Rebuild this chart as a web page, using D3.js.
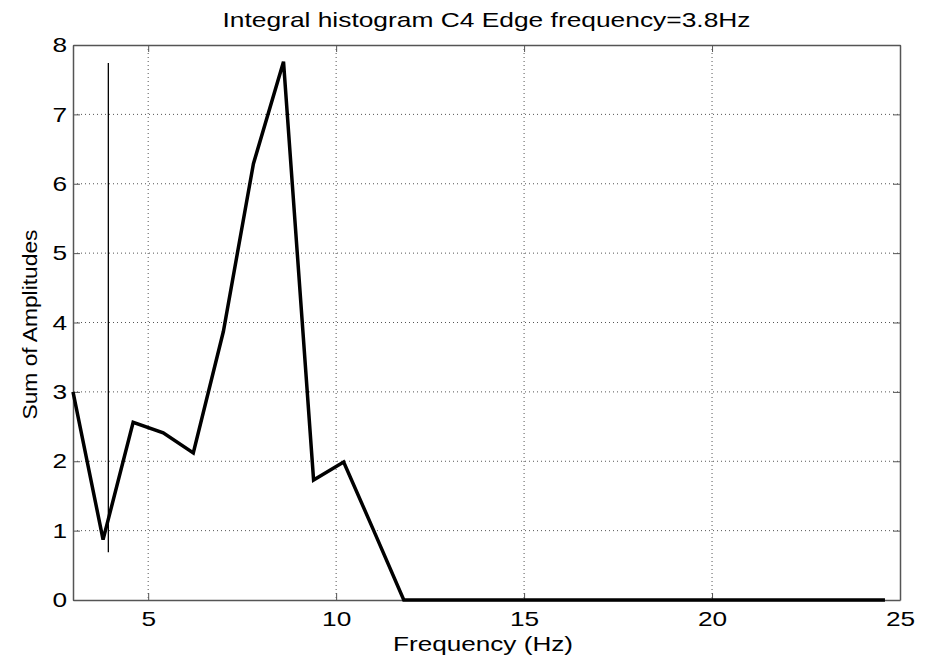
<!DOCTYPE html>
<html>
<head>
<meta charset="utf-8">
<script src="https://cdn.jsdelivr.net/npm/d3@7"></script>
<style>
  body { margin: 0; background: #fff; }
  svg text { font-family: "Liberation Sans", Arial, sans-serif; fill: #000; }
</style>
</head>
<body>
<div id="chart"></div>
<script>
// frequency bins (Hz)
const freqs = [3.0, 3.8, 4.6, 5.4, 6.2, 7.0, 7.8, 8.6, 9.4, 10.2, 11.0, 11.8,
  12.6, 13.4, 14.2, 15.0, 15.8, 16.6, 17.4, 18.2, 19.0, 19.8, 20.6, 21.4,
  22.2, 23.0, 23.8, 24.6];
// sum of amplitudes per bin
const amps = [3.0, 0.87, 2.56, 2.41, 2.12, 3.87, 6.29, 7.76, 1.73, 1.99, 1.0, 0,
  0, 0, 0, 0, 0, 0, 0, 0, 0, 0, 0, 0,
  0, 0, 0, 0];
// edge frequency marker: x position and vertical extent
const edgeX = [3.94];
const edgeY = [0.69, 7.74];
const xTicks = [5, 10, 15, 20, 25];
const yTicks = [0, 1, 2, 3, 4, 5, 6, 7, 8];
const titleText = "Integral histogram C4 Edge frequency=3.8Hz";

const width = 928, height = 656;
const margin = { top: 45, right: 28, bottom: 56, left: 73 };
const innerW = width - margin.left - margin.right;
const innerH = height - margin.top - margin.bottom;
const stretch = 1.25; // the reference text is drawn wide

const svg = d3.select("#chart").append("svg")
  .attr("width", width)
  .attr("height", height);

const g = svg.append("g")
  .attr("transform", `translate(${margin.left},${margin.top})`);

const x = d3.scaleLinear().domain([3, 25]).range([0, innerW]);
const y = d3.scaleLinear().domain([0, 8]).range([innerH, 0]);

// grid
g.append("g").selectAll("line")
  .data(xTicks.filter(d => d < 25))
  .join("line")
  .attr("x1", d => x(d)).attr("x2", d => x(d))
  .attr("y1", 0).attr("y2", innerH)
  .attr("stroke", "#555").attr("stroke-width", 1)
  .attr("stroke-dasharray", "1,3");

g.append("g").selectAll("line")
  .data(yTicks.filter(d => d > 0 && d < 8))
  .join("line")
  .attr("x1", 0).attr("x2", innerW)
  .attr("y1", d => y(d)).attr("y2", d => y(d))
  .attr("stroke", "#555").attr("stroke-width", 1)
  .attr("stroke-dasharray", "1,3");

// axes (ticks point inward, MATLAB style)
const xAxis = g.append("g")
  .attr("transform", `translate(0,${innerH})`)
  .call(d3.axisBottom(x).tickValues(xTicks).tickSize(-7).tickPadding(11).tickSizeOuter(0));
const xTop = g.append("g")
  .call(d3.axisTop(x).tickValues(xTicks).tickSize(-7).tickFormat("").tickSizeOuter(0));
const yAxis = g.append("g")
  .call(d3.axisLeft(y).tickValues(yTicks).tickSize(-7).tickPadding(6).tickSizeOuter(0));
const yRight = g.append("g")
  .attr("transform", `translate(${innerW},0)`)
  .call(d3.axisRight(y).tickValues(yTicks).tickSize(-7).tickFormat("").tickSizeOuter(0));

[xAxis, xTop, yAxis, yRight].forEach(a => {
  a.selectAll(".domain").attr("stroke", "#555").attr("stroke-width", 1.5);
  a.selectAll(".tick line").attr("stroke", "#555");
  a.selectAll("text")
    .style("font-size", "21px")
    .style("font-family", "'Liberation Sans', Arial, sans-serif")
    .each(function () {
      const t = d3.select(this);
      const tx = +t.attr("x") || 0;
      t.attr("x", 0).attr("transform", `translate(${tx},0) scale(${stretch},1)`);
    });
});

// edge frequency marker
g.append("line")
  .attr("x1", x(edgeX[0])).attr("x2", x(edgeX[0]))
  .attr("y1", y(edgeY[0])).attr("y2", y(edgeY[1]))
  .attr("stroke", "#000").attr("stroke-width", 1.3);

// histogram line
const data = freqs.map((f, i) => ({ f, v: amps[i] }));
g.append("path")
  .datum(data)
  .attr("fill", "none")
  .attr("stroke", "#000")
  .attr("stroke-width", 3.5)
  .attr("stroke-linejoin", "miter")
  .attr("d", d3.line().x(d => x(d.f)).y(d => y(d.v)));

// title and labels
svg.append("text")
  .attr("x", margin.left + innerW / 2)
  .attr("y", 27)
  .attr("text-anchor", "middle")
  .attr("textLength", 528)
  .attr("lengthAdjust", "spacingAndGlyphs")
  .style("font-size", "21px")
  .text(titleText);

svg.append("text")
  .attr("x", 483)
  .attr("y", 651)
  .attr("text-anchor", "middle")
  .attr("textLength", 180)
  .attr("lengthAdjust", "spacingAndGlyphs")
  .style("font-size", "20px")
  .text("Frequency (Hz)");

svg.append("text")
  .attr("transform", `translate(37,${margin.top + innerH / 2 + 2}) rotate(-90)`)
  .attr("text-anchor", "middle")
  .attr("textLength", 190)
  .attr("lengthAdjust", "spacingAndGlyphs")
  .style("font-size", "21px")
  .text("Sum of Amplitudes");
</script>
</body>
</html>
